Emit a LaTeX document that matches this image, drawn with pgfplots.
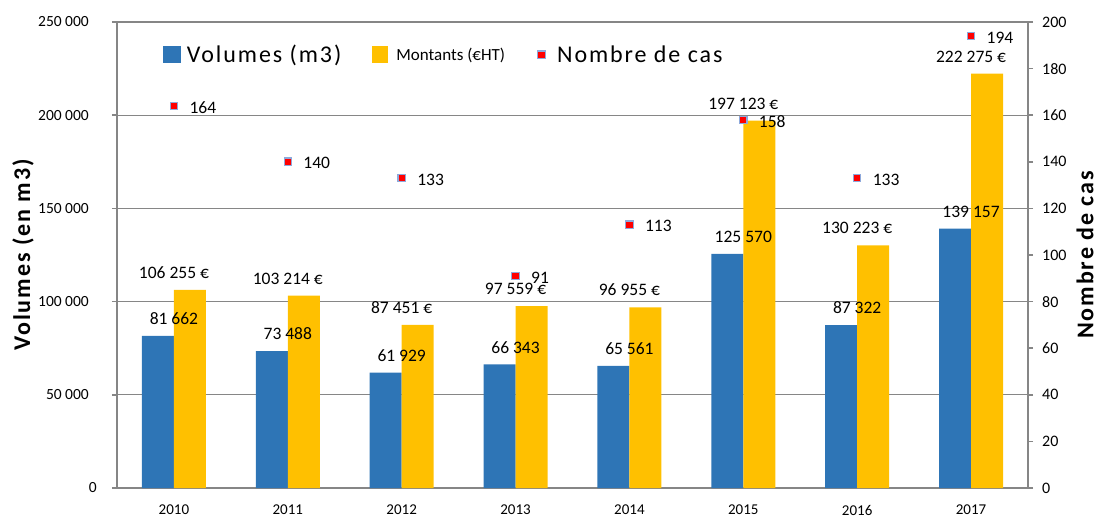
\documentclass[border=0pt]{standalone}
\usepackage{fontspec}
\setmainfont{Carlito}
\newfontfamily\lsfont[LetterSpace=8]{Carlito}
\usepackage{pgfplots}
\usepackage{pgfplotstable}
\pgfplotsset{compat=1.18}
\definecolor{cblue}{HTML}{2E75B6}
\definecolor{cyel}{HTML}{FFC000}
\definecolor{cgray}{HTML}{868686}
\definecolor{cmark}{HTML}{8EA9DB}
\pgfplotsset{/pgf/number format/assume math mode=true}

\pgfplotstableread{
x vol mont cas
0 81662 106255 164
1 73488 103214 140
2 61929 87451 133
3 66343 97559 91
4 65561 96955 113
5 125570 197123 158
6 87322 130223 133
7 139157 222275 194
}\data

\begin{document}
\begin{tikzpicture}
\useasboundingbox (0,0) rectangle (1101bp,518bp);
\begin{axis}[
  at={(117bp,30bp)}, anchor=south west,
  scale only axis, width=911bp, height=466bp,
  xmin=-0.5, xmax=7.5, ymin=0, ymax=250000,
  scaled y ticks=false,
  axis y line*=left, axis x line*=bottom,
  axis line style={cgray, line width=1.5bp},
  every outer x axis line/.append style={-},
  every outer y axis line/.append style={-},
  xtick={0,...,7},
  xticklabels={2010,2011,2012,2013,2014,2015,2016,2017},
  x tick style={draw=none},
  xticklabel style={font=\fontsize{15bp}{18bp}\selectfont, inner sep=0pt, anchor=north, yshift=-12bp},
  ytick={0,50000,100000,150000,200000,250000},
  yticklabels={0,{50\ 000\kern8bp},{100\ 000\kern8bp},{150\ 000\kern8bp},{200\ 000\kern8bp},{250\ 000\kern8bp}},
  yticklabel style={font=\fontsize{15.5bp}{18bp}\selectfont, inner sep=0pt, anchor=east, xshift=-15bp},
  tick align=outside, major tick length=5bp,
  y tick style={cgray, line width=1.5bp},
  ymajorgrids, grid style={cgray, line width=1.2bp},
  ylabel={\lsfont\bfseries\fontsize{24bp}{28bp}\selectfont Volumes (en m3)},
  ylabel style={at={(axis description cs:-0.1032,0.5)}, anchor=center},
  clip=false,
]
\addplot[ybar, bar width=32bp, bar shift=-16bp, fill=cblue, draw=none] table[x=x,y=vol]{\data};
\addplot[ybar, bar width=32bp, bar shift=16bp, fill=cyel, draw=none,
  nodes near coords={\pgfmathprintnumber[fixed,precision=0,1000 sep={\ }]{\pgfplotspointmeta}\ €},
  every node near coord/.append style={font=\fontsize{17.5bp}{20bp}\selectfont, inner sep=0pt, anchor=south, yshift=11bp, text=black}
  ] table[x=x,y=mont]{\data};
\addplot[ybar, bar width=32bp, bar shift=-16bp, draw=none, fill=none,
  nodes near coords={\pgfmathprintnumber[fixed,precision=0,1000 sep={\ }]{\pgfplotspointmeta}},
  every node near coord/.append style={font=\fontsize{17.5bp}{20bp}\selectfont, inner sep=0pt, anchor=south, yshift=11bp, text=black}
  ] table[x=x,y=vol]{\data};
\end{axis}
\begin{axis}[
  at={(117bp,30bp)}, anchor=south west,
  scale only axis, width=911bp, height=466bp,
  xmin=-0.5, xmax=7.5, ymin=0, ymax=200,
  axis x line=none, axis y line*=right,
  axis line style={cgray, line width=1.5bp},
  every outer y axis line/.append style={-},
  ytick={0,20,...,200},
  yticklabel style={font=\fontsize{16bp}{18bp}\selectfont, inner sep=0pt, anchor=west, xshift=9bp},
  tick align=outside, major tick length=5bp,
  y tick style={cgray, line width=1.5bp},
  ylabel={\lsfont\bfseries\fontsize{24bp}{28bp}\selectfont Nombre de cas},
  ylabel style={at={(axis description cs:1.0625,0.5)}, anchor=center},
  clip=false,
  legend columns=3,
  legend style={at={(axis description cs:0.0505,0.93)}, anchor=west, draw=none, fill=none,
    inner sep=0pt, outer sep=0pt, column sep=0pt, nodes={inner sep=0pt}},
]
\addlegendimage{legend image code/.code={\path[draw=none,fill=none] (0bp,0bp) -- (23.7bp,0bp); \fill[cblue] (0bp,-8bp) rectangle (16.5bp,8bp);}}
\addlegendentry{\makebox[185bp][l]{\lsfont\fontsize{24bp}{28bp}\selectfont Volumes (m3)}}
\addlegendimage{legend image code/.code={\path[draw=none,fill=none] (0bp,0bp) -- (24.3bp,0bp); \fill[cyel] (0bp,-8bp) rectangle (15.5bp,8bp);}}
\addlegendentry{\makebox[140.7bp][l]{\fontsize{17bp}{20bp}\selectfont Montants (€HT)}}
\addplot[only marks, mark=square*, mark size=3.7bp, mark options={fill=red, draw=cmark, line width=1.2bp},
  legend image code/.code={\path[draw=none,fill=none] (0bp,0bp) -- (20bp,0bp); \draw[fill=red, draw=cmark, line width=1.2bp] (0.6bp,-3.7bp) rectangle (8bp,3.7bp);},
  nodes near coords={\pgfmathprintnumber[fixed,precision=0]{\pgfplotspointmeta}},
  every node near coord/.append style={font=\fontsize{17.5bp}{20bp}\selectfont, inner sep=0pt, anchor=west, xshift=15bp, yshift=-1.5bp, text=black}
  ] table[x=x,y=cas]{\data};
\addlegendentry{\lsfont\fontsize{24bp}{28bp}\selectfont Nombre de cas}
\end{axis}
\end{tikzpicture}
\end{document}
